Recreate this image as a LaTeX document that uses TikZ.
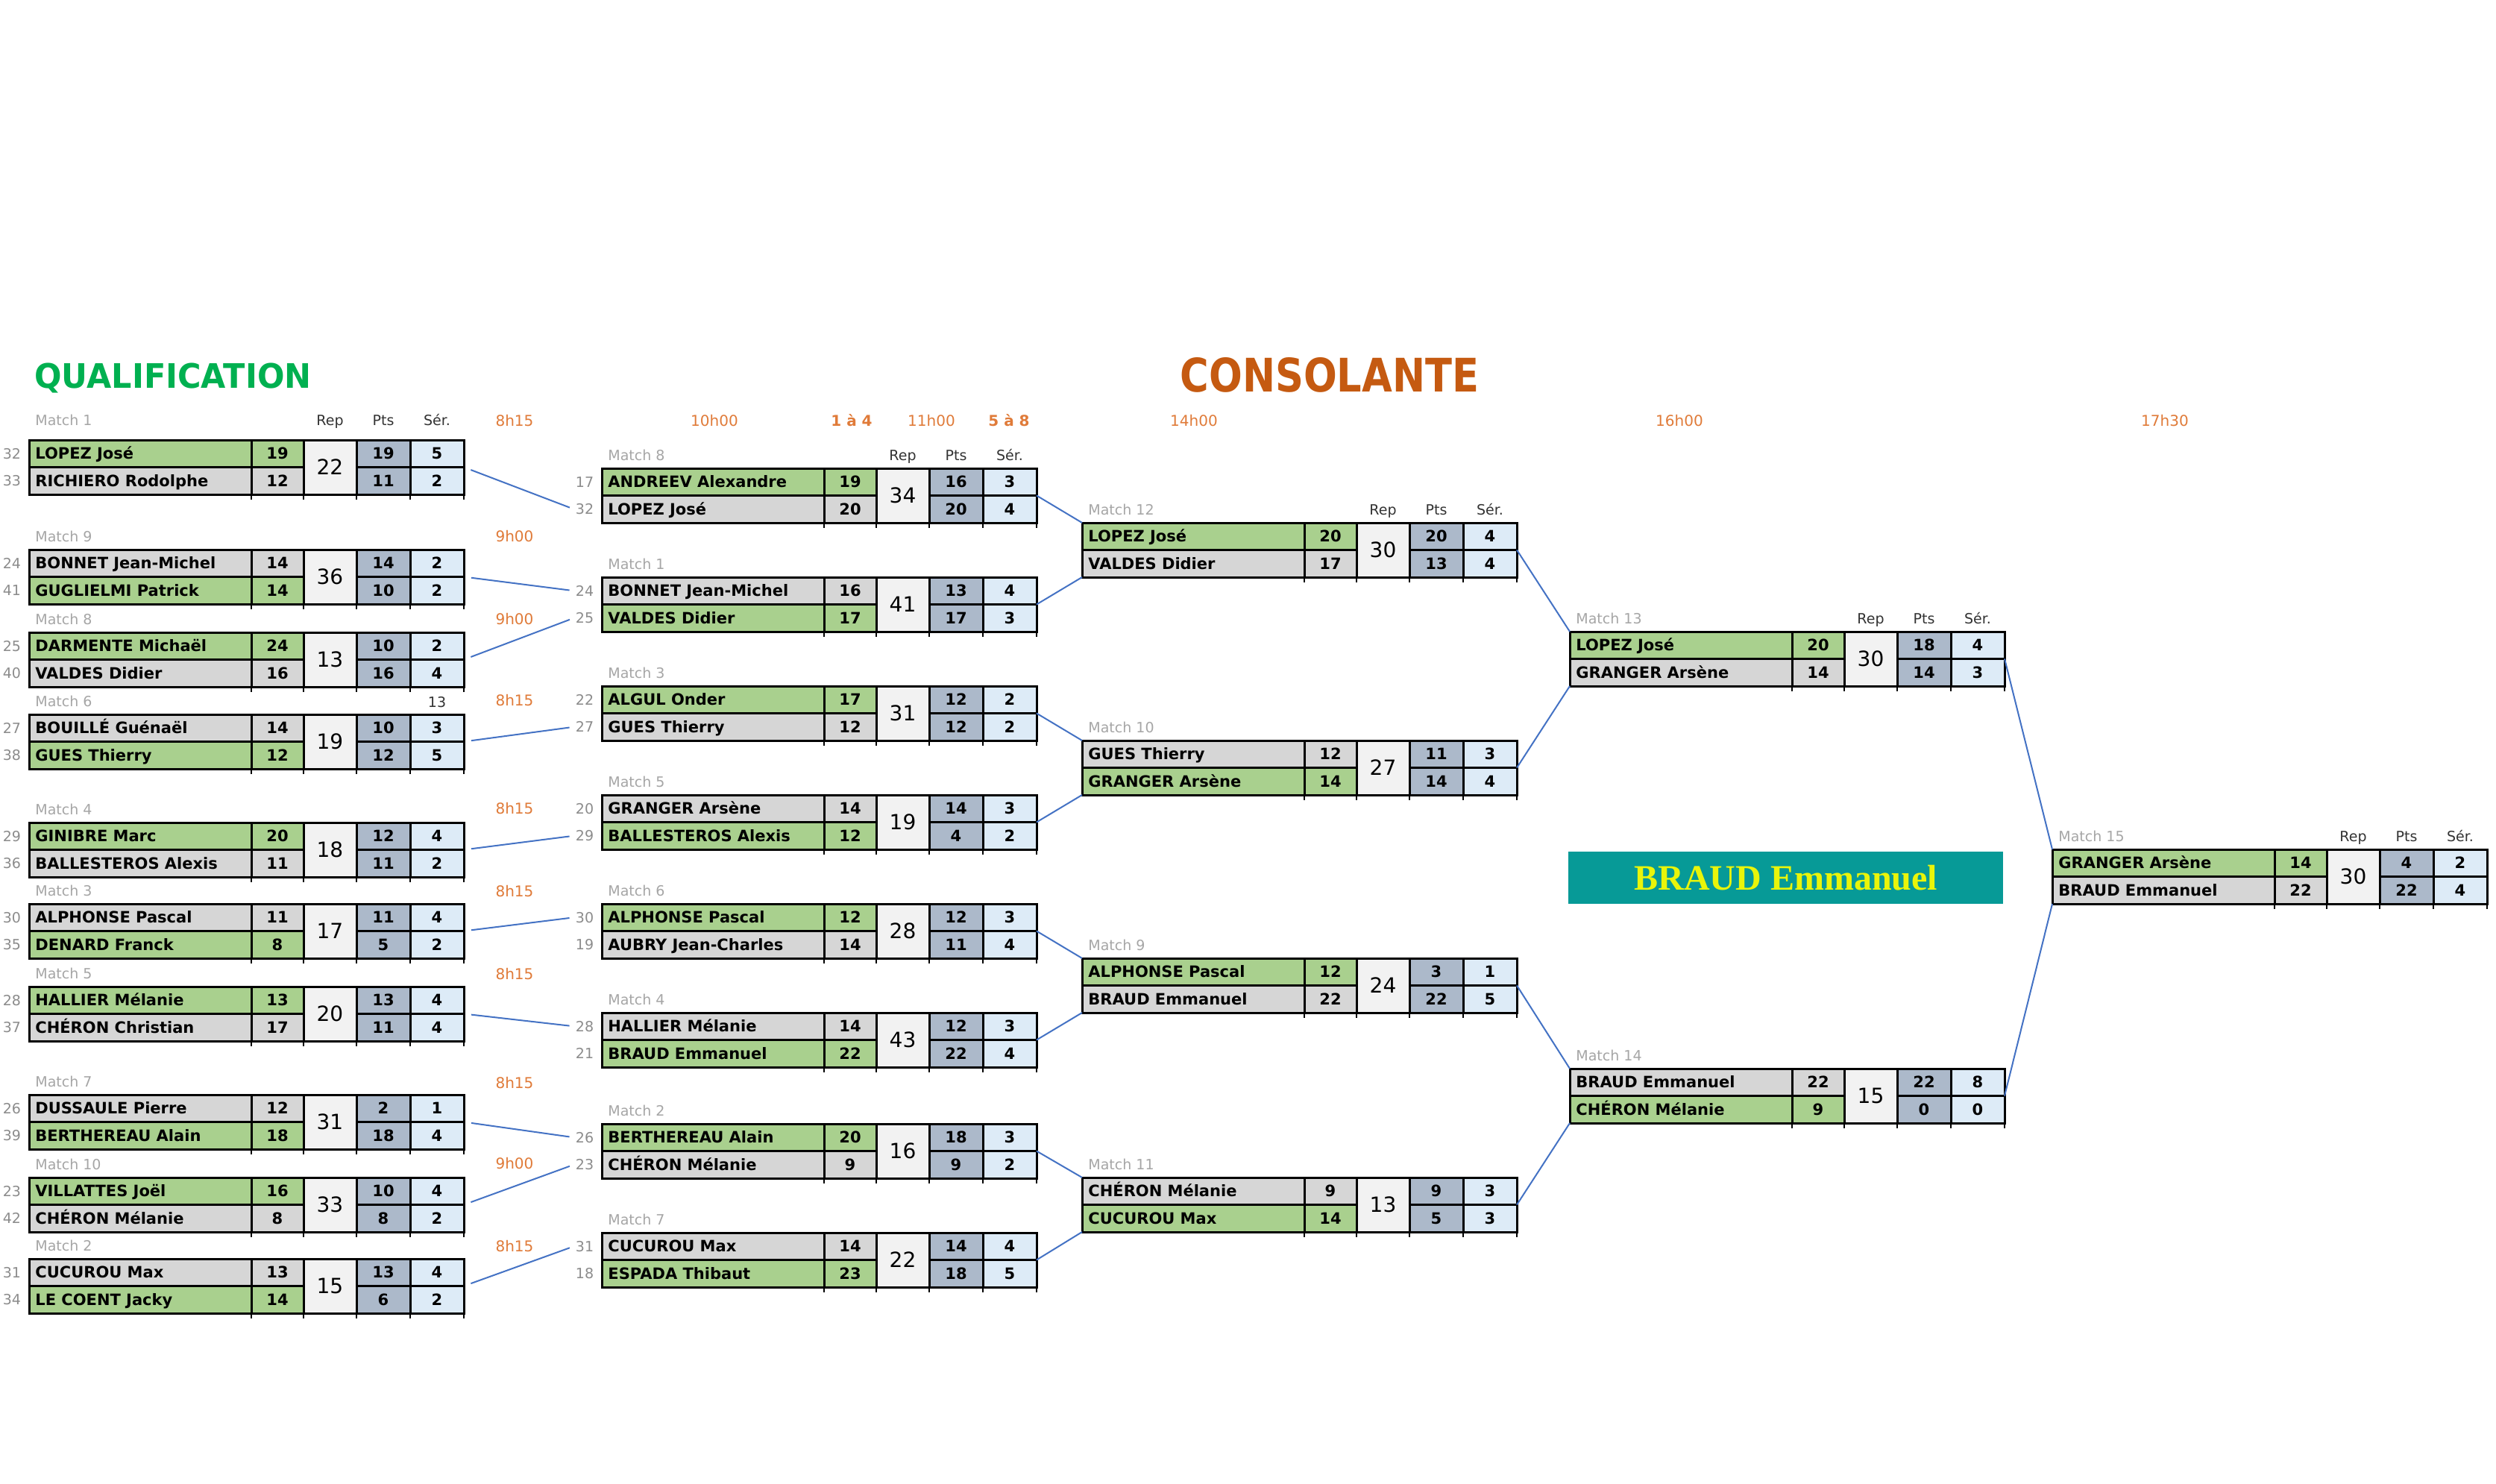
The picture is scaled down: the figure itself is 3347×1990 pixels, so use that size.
\documentclass[tikz,border=0pt]{standalone}
\usepackage{fontspec}
\usepackage{graphicx}
\setmainfont{DejaVu Sans}
\newfontfamily\serifb{Liberation Serif}
\definecolor{wgreen}{HTML}{A9D08E}
\definecolor{lgrey}{HTML}{D6D6D6}
\definecolor{repc}{HTML}{F2F2F2}
\definecolor{ptsc}{HTML}{ACB9CA}
\definecolor{serc}{HTML}{DDEBF7}
\definecolor{connc}{HTML}{4472C4}
\definecolor{timec}{HTML}{E07B39}
\definecolor{qualc}{HTML}{00B050}
\definecolor{consc}{HTML}{C55A11}
\definecolor{labc}{HTML}{A6A6A6}
\definecolor{seedc}{HTML}{8C8C8C}
\definecolor{bannerc}{HTML}{079A97}
\definecolor{byell}{HTML}{E9F50A}
\tikzset{
  cell/.style={inner sep=0pt, font=\fontsize{10.5}{12}\selectfont\bfseries, text height=7.7pt, text depth=0pt},
  repnum/.style={inner sep=0pt, font=\fontsize{14}{16}\selectfont, text height=10.2pt, text depth=0pt},
  seednum/.style={inner sep=1pt, text=seedc, font=\fontsize{9.5}{11}\selectfont, text height=6.9pt, text depth=0pt},
  mlabel/.style={inner sep=0pt, text=labc, font=\fontsize{9.5}{11}\selectfont, text height=6.9pt, text depth=0pt},
  hdr/.style={inner sep=0pt, text=black!80, font=\fontsize{9.5}{11}\selectfont, text height=6.9pt, text depth=0pt},
  timel/.style={inner sep=0pt, text=timec, font=\fontsize{10}{12}\selectfont, text height=7.3pt, text depth=0pt},
  gridl/.style={draw=black, line width=1.5pt},
  tbl/.style={inner sep=0pt, outer sep=0pt, minimum width=291.5pt, minimum height=36.5pt},
  link/.style={draw=connc, line width=1pt},
}
\newcommand\mt[5]{\gdef\MTid{#1}\gdef\MTx{#2}\gdef\MTy{#3}%
  \node[mlabel, anchor=west] (#1l) at ({#2+8},{#3+#5}) {#4};}
\newcommand\mrow[7]{%
  \pgfmathsetmacro\MTrt{\MTy+#1*36.5}%
  \pgfmathsetmacro\MTrc{\MTrt+18.25}%
  \fill[#5] (\MTx,\MTrt) rectangle ++(368,36.5);
  \fill[ptsc] ({\MTx+439},\MTrt) rectangle ++(72,36.5);
  \fill[serc] ({\MTx+511},\MTrt) rectangle ++(72,36.5);
  \node[seednum] (\MTid s#1) at ({\MTx-23},\MTrc) {#2};
  \node[cell, anchor=west] (\MTid n#1) at ({\MTx+8},\MTrc) {#3};
  \node[cell] (\MTid c#1) at ({\MTx+333},\MTrc) {#4};
  \node[cell] (\MTid p#1) at ({\MTx+475},\MTrc) {#6};
  \node[cell] (\MTid e#1) at ({\MTx+547},\MTrc) {#7};
}
\newcommand\mrep[1]{%
  \fill[repc] ({\MTx+368},\MTy) rectangle ++(71,73);
  \node[repnum] (\MTid r) at ({\MTx+403.5},{\MTy+36.5}) {#1};
}
\newcommand\mgrid{%
  \draw[gridl] (\MTx,\MTy) rectangle ++(583,73);
  \draw[gridl] (\MTx,{\MTy+36.5}) -- ++(368,0);
  \draw[gridl] ({\MTx+439},{\MTy+36.5}) -- ++(144,0);
  \foreach \o in {298,368,439,511} {\draw[gridl] ({\MTx+\o},\MTy) -- ++(0,73);}
  \foreach \o in {298,368,439,511,583} {\draw[black, line width=1.2pt] ({\MTx+\o},{\MTy+73}) -- ++(0,7);}
  \node[tbl, anchor=north west] (\MTid) at (\MTx,\MTy) {};
}
\newcommand\mhead[1]{%
  \node[hdr] (\MTid hr) at ({\MTx+403.5},{\MTy+#1}) {Rep};
  \node[hdr] (\MTid hp) at ({\MTx+475},{\MTy+#1}) {Pts};
  \node[hdr] (\MTid hs) at ({\MTx+547},{\MTy+#1}) {Sér.};
}
\begin{document}
\begin{tikzpicture}[x=0.5pt, y=-0.5pt]
\fill[white] (0,0) rectangle (3347,1990);
\useasboundingbox (0,0) rectangle (3347,1990);

% titles
\node[anchor=base west, inner sep=0pt, text=qualc, font=\fontsize{22.6}{26}\selectfont\bfseries] (qtitle) at (46,520) {\scalebox{0.95}[1]{QUALIFICATION}};
\node[anchor=base, inner sep=0pt, text=consc, font=\fontsize{31}{36}\selectfont\bfseries] (ctitle) at (1783,525) {\scalebox{0.85}[1]{CONSOLANTE}};

% times
\node[timel] (t1) at (690,564) {8h15};
\node[timel] (t2) at (690,719) {9h00};
\node[timel] (t3) at (690,830) {9h00};
\node[timel] (t4) at (690,939) {8h15};
\node[timel] (t5) at (690,1084) {8h15};
\node[timel] (t6) at (690,1195) {8h15};
\node[timel] (t7) at (690,1306) {8h15};
\node[timel] (t8) at (690,1452) {8h15};
\node[timel] (t9) at (690,1560) {9h00};
\node[timel] (t10) at (690,1671) {8h15};
\node[timel] (t11) at (958,564) {10h00};
\node[timel, font=\fontsize{10}{12}\selectfont\bfseries] (t12) at (1142,564) {1 à 4};
\node[timel] (t13) at (1249,564) {11h00};
\node[timel, font=\fontsize{10}{12}\selectfont\bfseries] (t14) at (1353,564) {5 à 8};
\node[timel] (t15) at (1601,564) {14h00};
\node[timel] (t16) at (2252,564) {16h00};
\node[timel] (t17) at (2903,564) {17h30};

% ---------- column 1 ----------
\mt{aM1}{39}{590}{Match 1}{-26}
\mhead{-26}
\mrow{0}{32}{LOPEZ José}{19}{wgreen}{19}{5}
\mrow{1}{33}{RICHIERO Rodolphe}{12}{lgrey}{11}{2}
\mrep{22}\mgrid

\mt{aM9}{39}{737}{Match 9}{-17}
\mrow{0}{24}{BONNET Jean-Michel}{14}{lgrey}{14}{2}
\mrow{1}{41}{GUGLIELMI Patrick}{14}{wgreen}{10}{2}
\mrep{36}\mgrid

\mt{aM8}{39}{848}{Match 8}{-17}
\mrow{0}{25}{DARMENTE Michaël}{24}{wgreen}{10}{2}
\mrow{1}{40}{VALDES Didier}{16}{lgrey}{16}{4}
\mrep{13}\mgrid

\mt{aM6}{39}{958}{Match 6}{-17}
\node[hdr] (extra13) at (586,942) {13};
\mrow{0}{27}{BOUILLÉ Guénaël}{14}{lgrey}{10}{3}
\mrow{1}{38}{GUES Thierry}{12}{wgreen}{12}{5}
\mrep{19}\mgrid

\mt{aM4}{39}{1103}{Match 4}{-17}
\mrow{0}{29}{GINIBRE Marc}{20}{wgreen}{12}{4}
\mrow{1}{36}{BALLESTEROS Alexis}{11}{lgrey}{11}{2}
\mrep{18}\mgrid

\mt{aM3}{39}{1212}{Match 3}{-17}
\mrow{0}{30}{ALPHONSE Pascal}{11}{lgrey}{11}{4}
\mrow{1}{35}{DENARD Franck}{8}{wgreen}{5}{2}
\mrep{17}\mgrid

\mt{aM5}{39}{1323}{Match 5}{-17}
\mrow{0}{28}{HALLIER Mélanie}{13}{wgreen}{13}{4}
\mrow{1}{37}{CHÉRON Christian}{17}{lgrey}{11}{4}
\mrep{20}\mgrid

\mt{aM7}{39}{1468}{Match 7}{-17}
\mrow{0}{26}{DUSSAULE Pierre}{12}{lgrey}{2}{1}
\mrow{1}{39}{BERTHEREAU Alain}{18}{wgreen}{18}{4}
\mrep{31}\mgrid

\mt{aM10}{39}{1579}{Match 10}{-17}
\mrow{0}{23}{VILLATTES Joël}{16}{wgreen}{10}{4}
\mrow{1}{42}{CHÉRON Mélanie}{8}{lgrey}{8}{2}
\mrep{33}\mgrid

\mt{aM2}{39}{1688}{Match 2}{-17}
\mrow{0}{31}{CUCUROU Max}{13}{lgrey}{13}{4}
\mrow{1}{34}{LE COENT Jacky}{14}{wgreen}{6}{2}
\mrep{15}\mgrid

% ---------- column 2 ----------
\mt{bM8}{807}{628}{Match 8}{-17}
\mhead{-17}
\mrow{0}{17}{ANDREEV Alexandre}{19}{wgreen}{16}{3}
\mrow{1}{32}{LOPEZ José}{20}{lgrey}{20}{4}
\mrep{34}\mgrid

\mt{bM1}{807}{774}{Match 1}{-17}
\mrow{0}{24}{BONNET Jean-Michel}{16}{lgrey}{13}{4}
\mrow{1}{25}{VALDES Didier}{17}{wgreen}{17}{3}
\mrep{41}\mgrid

\mt{bM3}{807}{920}{Match 3}{-17}
\mrow{0}{22}{ALGUL Onder}{17}{wgreen}{12}{2}
\mrow{1}{27}{GUES Thierry}{12}{lgrey}{12}{2}
\mrep{31}\mgrid

\mt{bM5}{807}{1066}{Match 5}{-17}
\mrow{0}{20}{GRANGER Arsène}{14}{lgrey}{14}{3}
\mrow{1}{29}{BALLESTEROS Alexis}{12}{wgreen}{4}{2}
\mrep{19}\mgrid

\mt{bM6}{807}{1212}{Match 6}{-17}
\mrow{0}{30}{ALPHONSE Pascal}{12}{wgreen}{12}{3}
\mrow{1}{19}{AUBRY Jean-Charles}{14}{lgrey}{11}{4}
\mrep{28}\mgrid

\mt{bM4}{807}{1358}{Match 4}{-17}
\mrow{0}{28}{HALLIER Mélanie}{14}{lgrey}{12}{3}
\mrow{1}{21}{BRAUD Emmanuel}{22}{wgreen}{22}{4}
\mrep{43}\mgrid

\mt{bM2}{807}{1507}{Match 2}{-17}
\mrow{0}{26}{BERTHEREAU Alain}{20}{wgreen}{18}{3}
\mrow{1}{23}{CHÉRON Mélanie}{9}{lgrey}{9}{2}
\mrep{16}\mgrid

\mt{bM7}{807}{1653}{Match 7}{-17}
\mrow{0}{31}{CUCUROU Max}{14}{lgrey}{14}{4}
\mrow{1}{18}{ESPADA Thibaut}{23}{wgreen}{18}{5}
\mrep{22}\mgrid

% ---------- column 3 ----------
\mt{cM12}{1451}{701}{Match 12}{-17}
\mhead{-17}
\mrow{0}{}{LOPEZ José}{20}{wgreen}{20}{4}
\mrow{1}{}{VALDES Didier}{17}{lgrey}{13}{4}
\mrep{30}\mgrid

\mt{cM10}{1451}{993}{Match 10}{-17}
\mrow{0}{}{GUES Thierry}{12}{lgrey}{11}{3}
\mrow{1}{}{GRANGER Arsène}{14}{wgreen}{14}{4}
\mrep{27}\mgrid

\mt{cM9}{1451}{1285}{Match 9}{-17}
\mrow{0}{}{ALPHONSE Pascal}{12}{wgreen}{3}{1}
\mrow{1}{}{BRAUD Emmanuel}{22}{lgrey}{22}{5}
\mrep{24}\mgrid

\mt{cM11}{1451}{1579}{Match 11}{-17}
\mrow{0}{}{CHÉRON Mélanie}{9}{lgrey}{9}{3}
\mrow{1}{}{CUCUROU Max}{14}{wgreen}{5}{3}
\mrep{13}\mgrid

% ---------- column 4 ----------
\mt{dM13}{2105}{847}{Match 13}{-17}
\mhead{-17}
\mrow{0}{}{LOPEZ José}{20}{wgreen}{18}{4}
\mrow{1}{}{GRANGER Arsène}{14}{lgrey}{14}{3}
\mrep{30}\mgrid

\mt{dM14}{2105}{1433}{Match 14}{-17}
\mrow{0}{}{BRAUD Emmanuel}{22}{lgrey}{22}{8}
\mrow{1}{}{CHÉRON Mélanie}{9}{wgreen}{0}{0}
\mrep{15}\mgrid

% ---------- column 5 ----------
\mt{eM15}{2752}{1139}{Match 15}{-17}
\mhead{-17}
\mrow{0}{}{GRANGER Arsène}{14}{wgreen}{4}{2}
\mrow{1}{}{BRAUD Emmanuel}{22}{lgrey}{22}{4}
\mrep{30}\mgrid

% winner banner
\node[fill=bannerc, inner sep=0pt, minimum width=291.5pt, minimum height=35pt, anchor=north west,
      text=byell, font=\serifb\fontsize{24}{28}\selectfont\bfseries] (champ) at (2103,1142) {BRAUD Emmanuel};

% ---------- connectors ----------
\draw[link, shorten <=5pt, shorten >=3pt] (aM1.east) -- (bM8s1.west);
\draw[link, shorten <=5pt, shorten >=3pt] (aM9.east) -- (bM1s0.west);
\draw[link, shorten <=5pt, shorten >=3pt] (aM8.east) -- (bM1s1.west);
\draw[link, shorten <=5pt, shorten >=3pt] (aM6.east) -- (bM3s1.west);
\draw[link, shorten <=5pt, shorten >=3pt] (aM4.east) -- (bM5s1.west);
\draw[link, shorten <=5pt, shorten >=3pt] (aM3.east) -- (bM6s0.west);
\draw[link, shorten <=5pt, shorten >=3pt] (aM5.east) -- (bM4s0.west);
\draw[link, shorten <=5pt, shorten >=3pt] (aM7.east) -- (bM2s0.west);
\draw[link, shorten <=5pt, shorten >=3pt] (aM10.east) -- (bM2s1.west);
\draw[link, shorten <=5pt, shorten >=3pt] (aM2.east) -- (bM7s0.west);

\draw[link] (bM8.east) -- (cM12.north west);
\draw[link] (bM1.east) -- (cM12.south west);
\draw[link] (bM3.east) -- (cM10.north west);
\draw[link] (bM5.east) -- (cM10.south west);
\draw[link] (bM6.east) -- (cM9.north west);
\draw[link] (bM4.east) -- (cM9.south west);
\draw[link] (bM2.east) -- (cM11.north west);
\draw[link] (bM7.east) -- (cM11.south west);

\draw[link] (cM12.east) -- (dM13.north west);
\draw[link] (cM10.east) -- (dM13.south west);
\draw[link] (cM9.east) -- (dM14.north west);
\draw[link] (cM11.east) -- (dM14.south west);

\draw[link] (dM13.east) -- (eM15.north west);
\draw[link] (dM14.east) -- (eM15.south west);
\end{tikzpicture}
\end{document}
